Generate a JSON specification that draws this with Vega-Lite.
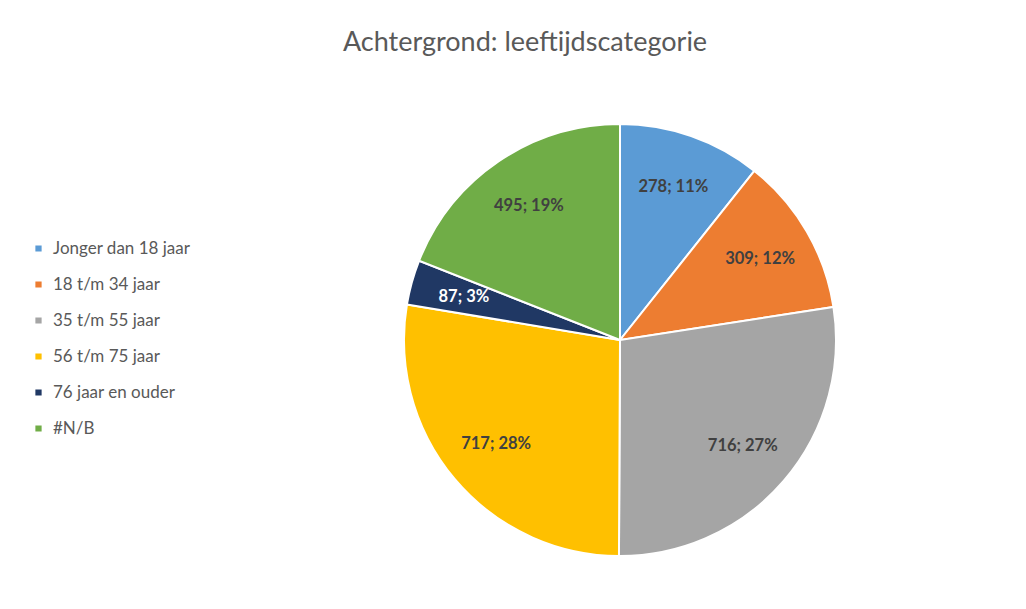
{
  "$schema": "https://vega.github.io/schema/vega-lite/v6.json",
  "width": 432,
  "height": 432,
  "autosize": "none",
  "padding": {"left": 404, "top": 124, "right": 190, "bottom": 53},
  "background": "white",
  "config": {"view": {"stroke": null}, "font": "Lato"},
  "title": {
    "text": "Achtergrond: leeftijdscategorie",
    "fontSize": 27,
    "fontWeight": "normal",
    "color": "#595959",
    "anchor": "middle",
    "frame": "group",
    "dx": -95,
    "offset": 42,
    "baseline": "alphabetic"
  },
  "data": {
    "values": [
      {"categorie": "Jonger dan 18 jaar", "aantal": 278, "volgorde": 1, "label": "278; 11%"},
      {"categorie": "18 t/m 34 jaar", "aantal": 309, "volgorde": 2, "label": "309; 12%"},
      {"categorie": "35 t/m 55 jaar", "aantal": 716, "volgorde": 3, "label": "716; 27%"},
      {"categorie": "56 t/m 75 jaar", "aantal": 717, "volgorde": 4, "label": "717; 28%"},
      {"categorie": "76 jaar en ouder", "aantal": 87, "volgorde": 5, "label": "87; 3%"},
      {"categorie": "#N/B", "aantal": 495, "volgorde": 6, "label": "495; 19%"}
    ]
  },
  "encoding": {
    "theta": {"field": "aantal", "type": "quantitative", "stack": true},
    "order": {"field": "volgorde", "type": "quantitative"},
    "color": {
      "field": "categorie",
      "type": "nominal",
      "sort": ["Jonger dan 18 jaar", "18 t/m 34 jaar", "35 t/m 55 jaar", "56 t/m 75 jaar", "76 jaar en ouder", "#N/B"],
      "scale": {
        "domain": ["Jonger dan 18 jaar", "18 t/m 34 jaar", "35 t/m 55 jaar", "56 t/m 75 jaar", "76 jaar en ouder", "#N/B"],
        "range": ["#5b9bd5", "#ed7d31", "#a5a5a5", "#ffc000", "#203864", "#70ad47"]
      },
      "legend": {
        "orient": "none",
        "legendX": -374,
        "legendY": 116,
        "title": null,
        "symbolType": "square",
        "symbolSize": 60,
        "labelFontSize": 17,
        "labelColor": "#595959",
        "rowPadding": 18,
        "labelOffset": 6
      }
    }
  },
  "layer": [
    {"mark": {"type": "arc", "stroke": "white", "strokeWidth": 2}},
    {
      "mark": {"type": "text", "fontSize": 16.5, "fontWeight": "bold"},
      "encoding": {
        "text": {"field": "label"},
        "radius": {"condition": {"test": "datum.aantal < 100", "value": 192}, "value": 162},
        "color": {"condition": {"test": "datum.aantal < 100", "value": "white"}, "value": "#404040"}
      }
    }
  ]
}
